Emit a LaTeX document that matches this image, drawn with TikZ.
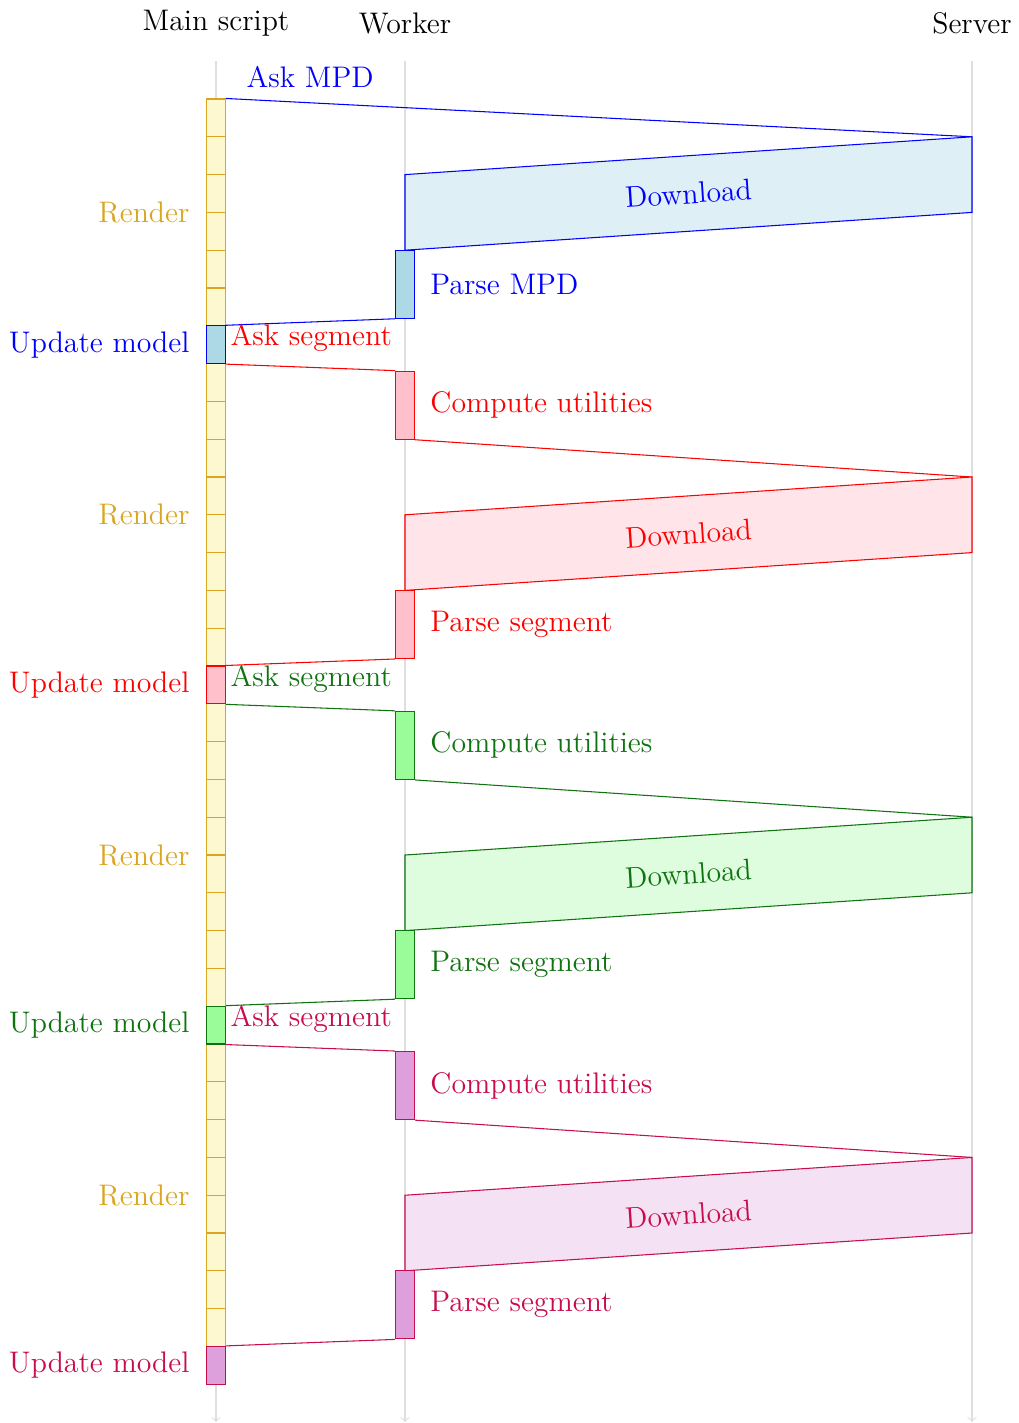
\documentclass[tikz,border=0pt]{standalone}
\definecolor{rgold}{RGB}{218,165,32}
\definecolor{rgoldfill}{RGB}{254,248,208}
\definecolor{lblue}{RGB}{173,216,230}
\definecolor{dlblue}{RGB}{222,239,245}
\definecolor{rpink}{RGB}{255,192,203}
\definecolor{dlpink}{RGB}{255,229,233}
\definecolor{dgreen}{RGB}{15,115,15}
\definecolor{lgreen}{RGB}{153,252,153}
\definecolor{dlgreen}{RGB}{222,252,222}
\definecolor{rpurple}{rgb}{0.78,0.05,0.3}
\definecolor{lplum}{RGB}{221,160,221}
\definecolor{dlplum}{RGB}{244,226,244}
\begin{document}
\begin{tikzpicture}[x=0.5cm,y=-0.5cm,font=\fontsize{11.2}{13.6}\selectfont,
  life/.style={draw=gray!25,->},
  cell/.style={rectangle,inner sep=0pt,minimum width=0.25cm,minimum height=0.5cm,draw=rgold,fill=rgoldfill},
  ubox/.style={rectangle,inner sep=0pt,minimum width=0.25cm,minimum height=0.5cm},
  wbox/.style={rectangle,inner sep=0pt,minimum width=0.25cm,minimum height=0.9cm},
  leftlbl/.style={anchor=east,inner sep=0pt},
  rightlbl/.style={anchor=west,inner sep=0pt}]
\useasboundingbox (-5.714,-2.619) rectangle (21.243,35.026);
% headers and lifelines
\node (hm) at (0,-2) {Main script};
\node (hw) at (5,-2) {Worker};
\node (hs) at (20,-2) {Server};
\coordinate (mt) at (0,-1); \coordinate (mb) at (0,35);
\coordinate (wt) at (5,-1); \coordinate (wb) at (5,35);
\coordinate (st) at (20,-1); \coordinate (sb) at (20,35);
\draw[life] (mt) -- (mb);
\draw[life] (wt) -- (wb);
\draw[life] (st) -- (sb);
% main script render cells
\foreach \a/\b in {0/5,7/14,16/23,25/32}
  \foreach \i in {\a,...,\b}
    \node[cell] (c\i) at (0,\i+0.5) {};
\foreach \r in {3,11,20,29}
  \node[leftlbl,text=rgold] (rl\r) at (-0.688,\r) {Render};
% phase 0: MPD
\coordinate (s0) at (20,1); \coordinate (sbb0) at (20,3);
\coordinate (wtt0) at (5,2); \coordinate (wbb0) at (5,4);
\draw[blue] (c0.north east) -- (s0);
\node[anchor=base,text=blue] (askmpd) at (2.49,-0.31) {Ask MPD};
\draw[blue,fill=dlblue] (wtt0) -- (s0) -- (sbb0) -- (wbb0) -- cycle;
\coordinate (dl0a) at (5,3); \coordinate (dl0b) at (20,2);
\path (dl0a) -- (dl0b) node[midway,sloped,text=blue] (dn0) {Download};
\node[wbox,draw=blue,fill=lblue] (ps0) at (5,4.9) {};
\node[rightlbl,text=blue] (pl0) at (5.66,4.9) {Parse MPD};
\node[ubox,draw=blue,fill=lblue] (u0) at (0,6.5) {};
\draw[blue] (ps0.south west) -- (u0.north east);
\node[leftlbl,text=blue] (ul0) at (-0.688,6.5) {Update model};
% segment phases
\foreach \o/\tc/\fc/\dc/\n in {7/red/rpink/dlpink/1,16/dgreen/lgreen/dlgreen/2,25/rpurple/lplum/dlplum/3}{
  \pgfmathtruncatemacro{\m}{\n-1}
  \node[wbox,draw=\tc,fill=\fc] (cu\n) at (5,\o+1.1) {};
  \draw[\tc] (u\m.south east) -- (cu\n.north west);
  \node[anchor=base west,inner sep=0pt,text=\tc] (ask\n) at (0.37,\o-0.47) {Ask segment};
  \node[rightlbl,text=\tc] (cl\n) at (5.66,\o+1.1) {Compute utilities};
  \coordinate (s\n) at (20,\o+3); \coordinate (sbb\n) at (20,\o+5);
  \coordinate (wtt\n) at (5,\o+4); \coordinate (wbb\n) at (5,\o+6);
  \draw[\tc] (cu\n.south east) -- (s\n);
  \draw[\tc,fill=\dc] (wtt\n) -- (s\n) -- (sbb\n) -- (wbb\n) -- cycle;
  \coordinate (dla\n) at (5,\o+5); \coordinate (dlb\n) at (20,\o+4);
  \path (dla\n) -- (dlb\n) node[midway,sloped,text=\tc] (dn\n) {Download};
  \node[wbox,draw=\tc,fill=\fc] (ps\n) at (5,\o+6.9) {};
  \node[rightlbl,text=\tc] (pl\n) at (5.66,\o+6.9) {Parse segment};
  \node[ubox,draw=\tc,fill=\fc] (u\n) at (0,\o+8.5) {};
  \draw[\tc] (ps\n.south west) -- (u\n.north east);
  \node[leftlbl,text=\tc] (ul\n) at (-0.688,\o+8.5) {Update model};
}
\end{tikzpicture}
\end{document}
